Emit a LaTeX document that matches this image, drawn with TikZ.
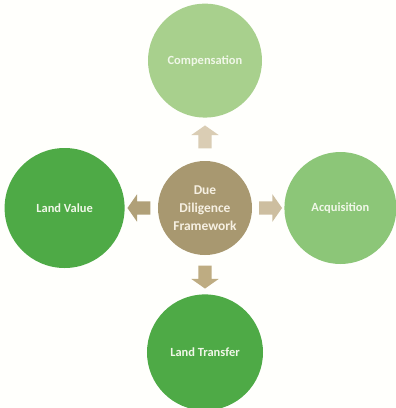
\documentclass[tikz,border=0pt]{standalone}
\usepackage{fontspec}
\setmainfont{Carlito}
\usepackage{tikz}
\usetikzlibrary{shapes.arrows, positioning}

\definecolor{tanbrown}{RGB}{168,152,112}
\definecolor{palegreen}{RGB}{168,208,141}
\definecolor{midgreen}{RGB}{140,198,120}
\definecolor{deepgreen}{RGB}{78,170,70}
\definecolor{creamtext}{RGB}{246,240,226}
\definecolor{leaftext}{RGB}{240,247,232}

\begin{document}
\begin{tikzpicture}[x=1bp, y=-1bp]

% --- Define Styles ---
\tikzstyle{hub} = [circle, inner sep=0pt, minimum size=94bp, fill=tanbrown, text=creamtext, font=\fontsize{13.5}{18}\selectfont\bfseries, align=center]
\tikzstyle{topic} = [circle, inner sep=0pt, text=leaftext, font=\fontsize{12.5}{15}\selectfont\bfseries, align=center]
\tikzstyle{blockarrow} = [single arrow, draw=none, minimum height=23bp, inner xsep=0pt, inner ysep=6.5bp, single arrow head extend=7bp, single arrow tip angle=110]

\useasboundingbox (0,0) rectangle (396,408);
\fill[white!99!yellow] (0,0) rectangle (396,408);

% --- Nodes ---
\node (hub) [hub] at (205,208) {Due\\Diligence\\Framework};
\node (comp) [topic, fill=palegreen, minimum size=114bp, above=43bp of hub] {Compensation};
\node (value) [topic, fill=deepgreen, minimum size=120bp, left=33bp of hub] {Land Value};
\node (acq) [topic, fill=midgreen, minimum size=112bp, right=32bp of hub] {Acquisition};
\node (transfer) [topic, fill=deepgreen, minimum size=116bp, below=39bp of hub] {Land Transfer};

% --- Arrows ---
\path (hub) -- (comp) node[midway, blockarrow, fill={rgb,255:red,218;green,205;blue,180}, rotate=90] (upar) {};
\path (hub) -- (value) node[midway, blockarrow, fill={rgb,255:red,176;green,160;blue,120}, rotate=180] (leftar) {};
\path (hub) -- (acq) node[midway, blockarrow, fill={rgb,255:red,205;green,190;blue,160}] (rightar) {};
\path (hub) -- (transfer) node[midway, blockarrow, fill={rgb,255:red,190;green,172;blue,130}, rotate=-90] (downar) {};

\end{tikzpicture}
\end{document}
